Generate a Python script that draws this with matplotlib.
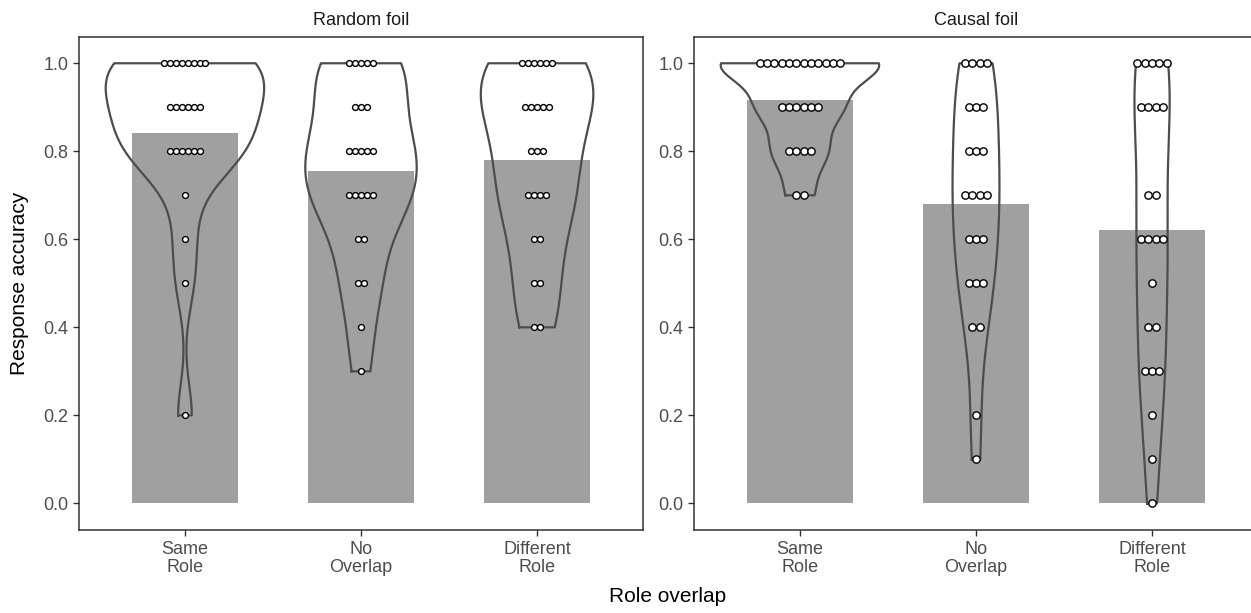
import numpy as np
import matplotlib
matplotlib.use("Agg")
import matplotlib.pyplot as plt

plt.rcParams['font.family'] = ['Liberation Sans', 'DejaVu Sans']

# ---------------- data ----------------
levels = [1.0, 0.9, 0.8, 0.7, 0.6, 0.5, 0.4, 0.3, 0.2, 0.1, 0.0]
categories = ["Same\nRole", "No\nOverlap", "Different\nRole"]
panels = ["Random foil", "Causal foil"]

# counts of participants at each accuracy level (same order as `levels`)
random_same = [8, 6, 6, 1, 1, 1, 0, 0, 1, 0, 0]
random_noov = [5, 3, 5, 5, 2, 2, 1, 1, 0, 0, 0]
random_diff = [6, 5, 3, 4, 2, 2, 2, 0, 0, 0, 0]
causal_same = [12, 6, 4, 2, 0, 0, 0, 0, 0, 0, 0]
causal_noov = [4, 3, 3, 4, 3, 3, 2, 0, 1, 1, 0]
causal_diff = [5, 4, 0, 2, 4, 1, 2, 3, 1, 1, 1]

panel_counts = [[random_same, random_noov, random_diff],
                [causal_same, causal_noov, causal_diff]]

y_ticks = [0.0, 0.2, 0.4, 0.6, 0.8, 1.0]
y_ticklabels = ["0.0", "0.2", "0.4", "0.6", "0.8", "1.0"]

# ---------------- style ----------------
BAR_COL = "#A0A0A0"
VIOLIN_COL = "#4D4D4D"
TICK_COL = "#4D4D4D"
BORDER_COL = "#333333"
W, H = 1251, 613
YLIM = (-0.0605, 1.059)
XLIM = (0.4, 3.6)


def expand(counts):
    vals = []
    for lv, c in zip(levels, counts):
        vals += [lv] * c
    return np.array(sorted(vals))


def bw_nrd0(x):
    sd = np.std(x, ddof=1)
    q75, q25 = np.percentile(x, [75, 25])
    lo = min(sd, (q75 - q25) / 1.34)
    if lo == 0:
        lo = sd if sd > 0 else 1.0
    return 0.9 * lo * len(x) ** (-0.2)


def kde(x, grid):
    bw = bw_nrd0(x)
    z = (grid[:, None] - x[None, :]) / bw
    return np.exp(-0.5 * z ** 2).sum(axis=1) / (len(x) * bw * np.sqrt(2 * np.pi))


fig = plt.figure(figsize=(W / 100, H / 100), dpi=100)


def rect(x0, x1, ytop, ybot):
    return [x0 / W, 1 - ybot / H, (x1 - x0) / W, (ybot - ytop) / H]


axes = [fig.add_axes(rect(79.3, 642.7, 37.3, 530)),
        fig.add_axes(rect(694.3, 1257.7, 37.3, 530))]

ax_w_px = 642.7 - 79.3
ax_h_px = 530 - 37.3
px_per_x = ax_w_px / (XLIM[1] - XLIM[0])
px_per_y = ax_h_px / (YLIM[1] - YLIM[0])

for ax, title, counts_list in zip(axes, panels, panel_counts):
    datas = [expand(c) for c in counts_list]
    allv = np.concatenate(datas)
    binwidth = (allv.max() - allv.min()) / 30.0
    dot_px = binwidth * 0.5 * px_per_y
    dot_dx = dot_px / px_per_x

    # densities
    grids, dens = [], []
    for d in datas:
        g = np.linspace(d.min(), d.max(), 512)
        grids.append(g)
        dens.append(kde(d, g))
    dmax = max(v.max() for v in dens)

    for i, d in enumerate(datas):
        xc = i + 1
        # mean bar
        ax.bar(xc, d.mean(), width=0.6, color=BAR_COL, zorder=1, linewidth=0)
        # violin outline (no fill)
        hw = dens[i] / dmax * 0.9 / 2
        g = grids[i]
        xs = np.concatenate([xc - hw, (xc + hw)[::-1], [xc - hw[0]]])
        ys = np.concatenate([g, g[::-1], [g[0]]])
        ax.plot(xs, ys, color=VIOLIN_COL, lw=1.6, zorder=2, solid_joinstyle='round')
        # dots
        cnts = counts_list[i]
        for lv, c in zip(levels, cnts):
            if c == 0:
                continue
            offs = (np.arange(c) - (c - 1) / 2.0) * dot_dx
            ax.scatter(xc + offs, np.full(c, lv), s=(dot_px * 0.72) ** 2,
                       facecolor="white", edgecolor="black", linewidth=1.0,
                       zorder=3)

    ax.set_xlim(*XLIM)
    ax.set_ylim(*YLIM)
    ax.set_xticks([1, 2, 3])
    ax.set_xticklabels(categories, fontsize=13, color=TICK_COL, linespacing=1.05)
    ax.set_yticks(y_ticks)
    ax.set_yticklabels(y_ticklabels, fontsize=13, color=TICK_COL)
    ax.tick_params(axis='both', length=4.5, width=1.0, color=BORDER_COL, pad=3.5)
    for sp in ax.spines.values():
        sp.set_color(BORDER_COL)
        sp.set_linewidth(1.1)
    ax.set_title(title, fontsize=13, color="#1A1A1A", pad=9)

axes[0].set_ylabel("Response accuracy", fontsize=15, color="black", labelpad=10)
fig.text(668 / W, 1 - 597 / H, "Role overlap", fontsize=15, color="black",
         ha="center", va="center")

fig.savefig("out.png", dpi=100)
